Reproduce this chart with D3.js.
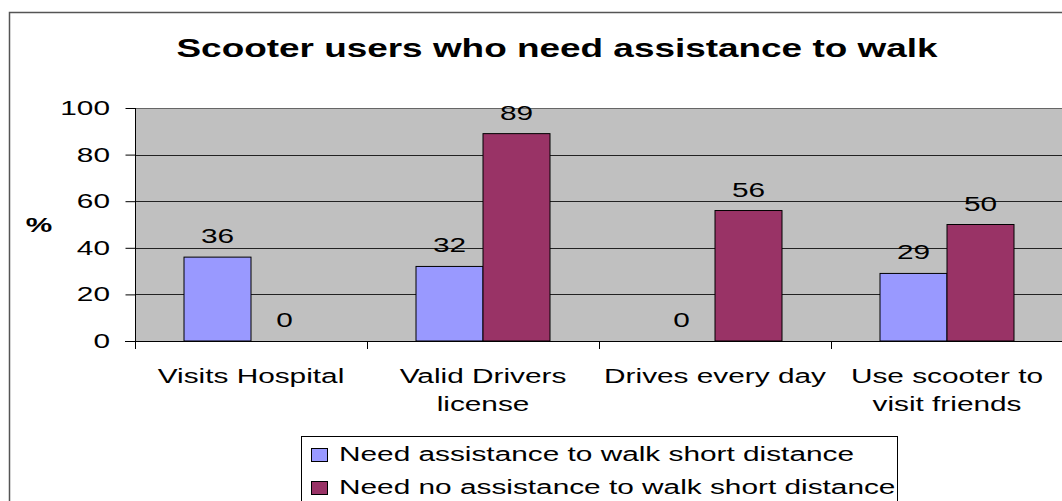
<!DOCTYPE html>
<html>
<head>
<meta charset="utf-8">
<script src="https://cdn.jsdelivr.net/npm/d3@7"></script>
<style>
body { margin:0; background:#fff; }
text { font-family: "Liberation Sans", Arial, sans-serif; fill:#000; }
</style>
</head>
<body>
<script>
var categories = [["Visits Hospital"], ["Valid Drivers", "license"], ["Drives every day"], ["Use scooter to", "visit friends"]];
var seriesNames = ["Need assistance to walk short distance", "Need no assistance to walk short distance"];
var assistVals = [36, 32, 0, 29];
var noAssistVals = [0, 89, 56, 50];
var yTicks = [0, 20, 40, 60, 80, 100];
var colors = ["#9999FF", "#993366"];

var w = 1062, h = 501;
var stretch = 1.42; // text in the original is drawn wide
var svg = d3.select("body").append("svg").attr("width", w).attr("height", h);

// text placed at (x,y), widened horizontally
function label(px, py, txt, size, anchor, bold){
	return svg.append("text")
		.attr("transform", "translate(" + px + "," + py + ") scale(" + stretch + ",1)")
		.attr("text-anchor", anchor || "start")
		.style("font-size", size + "px")
		.style("font-weight", bold ? "bold" : "normal")
		.text(txt);
}

// outer chart border (cropped at right/bottom)
svg.append("rect")
	.attr("x", 9.5).attr("y", 12.5)
	.attr("width", 1100).attr("height", 600)
	.attr("fill", "#fff").attr("stroke", "#555").attr("stroke-width", 1.5);

var plot = {left:135, top:108, right:1063, bottom:341};

var x = d3.scaleBand().domain(d3.range(categories.length)).range([plot.left, plot.right]);
var y = d3.scaleLinear().domain([0, 100]).range([plot.bottom, plot.top]);

// plot background
svg.append("rect")
	.attr("x", plot.left).attr("y", plot.top)
	.attr("width", plot.right - plot.left).attr("height", plot.bottom - plot.top)
	.attr("fill", "#C0C0C0");

// gridlines
svg.selectAll(".grid").data(yTicks.filter(function(d){ return d > 0; }))
	.enter().append("line")
	.attr("x1", plot.left).attr("x2", plot.right)
	.attr("y1", function(d){ return Math.round(y(d)) + 0.5; })
	.attr("y2", function(d){ return Math.round(y(d)) + 0.5; })
	.attr("stroke", function(d){ return d == 100 ? "#666" : "#222"; })
	.attr("stroke-width", 1);

// bars
var bw = 67;
var series = [assistVals, noAssistVals];
series.forEach(function(vals, s){
	svg.selectAll(".bar" + s).data(vals).enter().append("rect")
		.attr("x", function(d, i){ return x(i) + x.bandwidth()/2 - bw + s*bw; })
		.attr("y", function(d){ return y(d); })
		.attr("width", bw)
		.attr("height", function(d){ return plot.bottom - y(d); })
		.attr("fill", colors[s])
		.attr("stroke", "#000").attr("stroke-width", 1);

	vals.forEach(function(d, i){
		label(x(i) + x.bandwidth()/2 - bw/2 + s*bw, y(d) - 14, d, 21, "middle");
	});
});

// y axis
var yAxis = d3.axisLeft(y).tickValues(yTicks).tickSize(10).tickFormat("");
var ya = svg.append("g").attr("transform", "translate(" + (plot.left + 0.5) + ",0)").call(yAxis);
ya.select(".domain").attr("stroke", "#000").attr("d", "M0," + plot.top + "V" + plot.bottom);
ya.selectAll("line").attr("stroke", "#000");
yTicks.forEach(function(t){
	label(110, y(t) + 7, t, 21, "end");
});

// x axis
svg.append("line")
	.attr("x1", plot.left - 10).attr("x2", plot.right)
	.attr("y1", plot.bottom + 0.5).attr("y2", plot.bottom + 0.5)
	.attr("stroke", "#000");
svg.selectAll(".xt").data(d3.range(categories.length + 1)).enter().append("line")
	.attr("x1", function(d){ return Math.round(plot.left + d * x.step()) + 0.5; })
	.attr("x2", function(d){ return Math.round(plot.left + d * x.step()) + 0.5; })
	.attr("y1", plot.bottom).attr("y2", plot.bottom + 8)
	.attr("stroke", "#000");

categories.forEach(function(lines, i){
	lines.forEach(function(l, j){
		label(x(i) + x.bandwidth()/2, 383 + j*28, l, 21, "middle");
	});
});

// title
label(557, 57, "Scooter users who need assistance to walk", 26, "middle", true);

// y axis title
label(39, 232, "%", 21, "middle", true);

// legend
svg.append("rect")
	.attr("x", 301.5).attr("y", 436.5)
	.attr("width", 596).attr("height", 80)
	.attr("fill", "#fff").attr("stroke", "#000");
seriesNames.forEach(function(n, i){
	svg.append("rect")
		.attr("x", 311.5).attr("y", 448.5 + i*33)
		.attr("width", 16).attr("height", 13)
		.attr("fill", colors[i]).attr("stroke", "#000");
	label(339, 461 + i*33, n, 21, "start");
});
</script>
</body>
</html>
